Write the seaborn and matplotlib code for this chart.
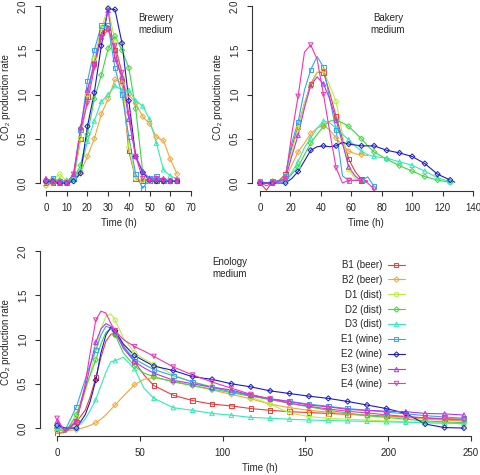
import numpy as np
import matplotlib
matplotlib.use('Agg')
import matplotlib.pyplot as plt
from matplotlib.lines import Line2D
import seaborn as sns

nan = np.nan

STRAINS = ['B1 (beer)', 'B2 (beer)', 'D1 (dist)', 'D2 (dist)', 'D3 (dist)',
           'E1 (wine)', 'E2 (wine)', 'E3 (wine)', 'E4 (wine)']

# brewery medium, one sample every ~3.3 h
T_BREW = [0, 3.3, 6.7, 10, 13.3, 16.7, 20, 23.3, 26.7, 30, 33.3, 36.7, 40, 43.3,
          46.7, 50, 53.3, 56.7, 60, 63.3]
BREW_B1 = [0.0, 0.0, 0.0, 0.02, 0.05, 0.5, 0.98, 1.35, 1.7, 1.75, 1.5, 1.15, 0.36, 0.05, 0.02, 0.03, 0.02, 0.02, 0.02, 0.02]
BREW_B2 = [-0.03, 0.0, 0.02, 0.02, 0.05, 0.12, 0.3, 0.5, 0.78, 0.95, 1.17, 1.13, 1.0, 0.9, 0.75, 0.67, 0.52, 0.48, 0.27, 0.1]
BREW_D1 = [0.02, 0.05, 0.1, 0.02, 0.05, 0.5, 1.0, 1.4, 1.75, 1.98, 1.6, 1.2, 0.4, 0.05, 0.03, 0.02, 0.03, 0.02, 0.02, 0.02]
BREW_D2 = [0.01, 0.0, 0.03, 0.02, 0.05, 0.2, 0.55, 0.95, 1.22, 1.52, 1.66, 1.5, 1.3, 0.84, 0.12, 0.05, 0.03, 0.02, 0.02, 0.02]
BREW_D3 = [0.02, 0.05, 0.0, 0.03, 0.05, 0.15, 0.47, 0.7, 0.92, 1.0, 1.1, 1.05, 1.05, 0.93, 0.87, 0.72, 0.45, 0.15, 0.08, 0.05]
BREW_E1 = [0.02, 0.05, 0.02, 0.0, 0.05, 0.6, 1.15, 1.5, 1.78, 1.78, 1.3, 1.0, 0.52, 0.1, -0.06, 0.05, 0.08, 0.02, 0.02, 0.02]
BREW_E2 = [0.02, 0.02, 0.0, 0.0, 0.02, 0.11, 0.64, 1.02, 1.55, 1.97, 1.96, 1.58, 0.93, 0.3, 0.12, 0.03, 0.02, 0.02, 0.02, 0.02]
BREW_E3 = [0.05, 0.02, 0.0, 0.0, 0.1, 0.63, 1.05, 1.35, 1.65, 1.95, 1.4, 1.2, 0.72, 0.3, 0.13, 0.05, 0.05, 0.05, 0.02, 0.02]
BREW_E4 = [0.02, 0.0, 0.0, 0.0, 0.1, 0.6, 0.9, 1.3, 1.65, 1.73, 1.55, 1.25, 0.78, 0.3, 0.05, 0.03, 0.05, 0.03, 0.02, 0.03]
BREW_MARKS = T_BREW

# bakery medium
T_BAK = [0, 4.2, 8.3, 12.5, 16.7, 20.8, 25, 29.2, 33.3, 37.5, 41.7, 45.8, 50, 54.2, 58.3,
         62.5, 66.7, 70.8, 75, 83.3, 91.7, 100, 108.3, 116.7, 125, 128]
BAK_B1 = [0.0, -0.08, 0.02, 0.03, 0.1, 0.4, 0.64, 0.9, 1.12, 1.25, 1.25, 1.02, 0.75, 0.5, 0.27, 0.13, 0.04, 0.02, nan, nan, nan, nan, nan, nan, nan, nan]
BAK_B2 = [0.0, 0.0, 0.02, 0.02, 0.05, 0.2, 0.35, 0.45, 0.56, 0.62, 0.65, 0.6, 0.51, 0.43, 0.36, 0.33, 0.32, 0.31, nan, nan, nan, nan, nan, nan, nan, nan]
BAK_D1 = [0.0, 0.0, 0.02, 0.03, 0.08, 0.35, 0.62, 0.9, 1.1, 1.25, 1.27, 1.1, 0.92, 0.55, 0.15, 0.05, 0.02, nan, nan, nan, nan, nan, nan, nan, nan, nan]
BAK_D2 = [0.0, 0.0, 0.0, 0.02, 0.02, 0.1, 0.18, 0.32, 0.45, 0.55, 0.64, 0.7, 0.71, 0.68, 0.64, 0.57, 0.5, 0.42, 0.35, 0.27, 0.195, 0.135, 0.072, 0.034, 0.008, nan]
BAK_D3 = [0.02, 0.0, 0.0, 0.02, 0.03, 0.12, 0.24, 0.4, 0.51, 0.62, 0.7, 0.68, 0.62, 0.55, 0.49, 0.42, 0.36, 0.32, 0.3, 0.28, 0.24, 0.2, 0.135, 0.06, 0.015, nan]
BAK_E1 = [0.02, 0.0, 0.02, 0.03, 0.08, 0.45, 0.69, 1.05, 1.28, 1.43, 1.31, 0.95, 0.6, 0.08, 0.03, 0.03, 0.03, 0.07, -0.04, nan, nan, nan, nan, nan, nan, nan]
BAK_E2 = [0.0, 0.0, 0.0, 0.0, 0.0, 0.05, 0.13, 0.25, 0.37, 0.41, 0.42, 0.41, 0.42, 0.46, 0.44, 0.43, 0.42, 0.42, 0.42, 0.37, 0.34, 0.3, 0.22, 0.1, 0.034, 0.01]
BAK_E3 = [0.0, 0.0, 0.0, 0.02, 0.05, 0.3, 0.54, 0.85, 1.1, 1.2, 1.12, 0.95, 0.71, 0.45, 0.18, 0.08, 0.02, 0.02, nan, nan, nan, nan, nan, nan, nan, nan]
BAK_E4 = [0.0, -0.03, 0.0, 0.02, 0.05, 0.55, 0.98, 1.48, 1.56, 1.4, 1.0, 0.58, 0.17, 0.0, 0.03, 0.03, 0.03, 0.0, -0.07, nan, nan, nan, nan, nan, nan, nan]
BAK_MARKS = [0, 8.3, 16.7, 25, 33.3, 41.7, 50, 58.3, 66.7, 75, 83.3, 91.7, 100, 108.3, 116.7, 125]

# enology medium
T_ENO = [0, 5, 11.7, 17, 20, 23.4, 26.5, 29.5, 32.5, 35.1, 40, 46.8, 52.5, 58.5, 70.2, 81.9,
         93.6, 105.3, 117, 128.7, 140.4, 152.1, 163.8, 175.5, 187.2, 198.9, 210.6, 222.3, 234, 245.7]
ENO_B1 = [-0.06, -0.05, 0.07, 0.2, 0.35, 0.57, 0.8, 0.98, 1.06, 1.07, 0.93, 0.75, 0.6, 0.48, 0.37, 0.31, 0.27, 0.25, 0.22, 0.2, 0.185, 0.175, 0.165, 0.155, 0.145, 0.135, 0.125, 0.115, 0.105, 0.1]
ENO_B2 = [-0.03, -0.03, -0.02, 0.01, 0.03, 0.06, 0.1, 0.15, 0.21, 0.26, 0.36, 0.49, 0.55, 0.57, 0.53, 0.48, 0.43, 0.38, 0.33, 0.27, 0.23, 0.2, 0.18, 0.16, 0.14, 0.13, 0.12, 0.1, 0.09, 0.08]
ENO_D1 = [0.0, -0.05, 0.12, 0.4, 0.6, 0.9, 1.12, 1.26, 1.29, 1.22, 1.02, 0.85, 0.78, 0.72, 0.6, 0.52, 0.47, 0.42, 0.35, 0.27, 0.17, 0.13, 0.11, 0.1, 0.09, 0.08, 0.07, 0.06, 0.055, 0.05]
ENO_D2 = [0.0, -0.05, 0.15, 0.45, 0.6, 0.77, 0.95, 1.08, 1.12, 1.05, 0.85, 0.7, 0.62, 0.58, 0.52, 0.48, 0.44, 0.4, 0.36, 0.32, 0.28, 0.24, 0.2, 0.17, 0.14, 0.12, 0.1, 0.08, 0.07, 0.06]
ENO_D3 = [0.0, -0.02, 0.0, 0.1, 0.2, 0.32, 0.48, 0.63, 0.75, 0.76, 0.8, 0.67, 0.45, 0.335, 0.23, 0.2, 0.165, 0.145, 0.12, 0.11, 0.1, 0.09, 0.085, 0.08, 0.075, 0.07, 0.065, 0.06, 0.055, 0.05]
ENO_E1 = [0.03, -0.02, 0.24, 0.55, 0.72, 0.88, 1.05, 1.15, 1.13, 1.08, 0.92, 0.78, 0.72, 0.66, 0.59, 0.52, 0.46, 0.41, 0.37, 0.33, 0.3, 0.27, 0.245, 0.22, 0.2, 0.18, 0.16, 0.14, 0.125, 0.11]
ENO_E2 = [0.03, 0.0, 0.0, 0.15, 0.3, 0.54, 0.85, 1.05, 1.14, 1.1, 0.95, 0.82, 0.76, 0.7, 0.65, 0.58, 0.55, 0.5, 0.465, 0.42, 0.39, 0.36, 0.335, 0.3, 0.26, 0.22, 0.165, 0.045, 0.005, 0.0]
ENO_E3 = [0.07, -0.03, 0.08, 0.45, 0.7, 0.97, 1.12, 1.18, 1.15, 1.09, 0.9, 0.75, 0.68, 0.62, 0.54, 0.5, 0.46, 0.43, 0.37, 0.33, 0.3, 0.26, 0.24, 0.21, 0.2, 0.19, 0.185, 0.165, 0.16, 0.147]
ENO_E4 = [0.11, -0.05, 0.07, 0.5, 0.85, 1.22, 1.32, 1.3, 1.18, 1.1, 1.0, 0.92, 0.87, 0.81, 0.69, 0.6, 0.52, 0.45, 0.38, 0.33, 0.28, 0.245, 0.215, 0.19, 0.17, 0.15, 0.13, 0.115, 0.1, 0.09]
ENO_MARKS = [0, 11.7, 23.4, 35.1, 46.8, 58.5, 70.2, 81.9, 93.6, 105.3, 117, 128.7, 140.4,
             152.1, 163.8, 175.5, 187.2, 198.9, 210.6, 222.3, 234, 245.7]

COLORS = ['#f03a3a', '#f5a535', '#b8f03a', '#3cd83c', '#35e8b5',
          '#35a5f0', '#1a1acc', '#b535f0', '#f035b5']
MARKERS = ['s', 'D', 'o', 'D', '^', 's', 'D', '^', 'v']

sns.set_theme(style='white')
plt.rcParams['font.family'] = ['Liberation Sans', 'DejaVu Sans']
plt.rcParams['font.size'] = 7
plt.rcParams['axes.linewidth'] = 0.8

fig = plt.figure(figsize=(4.8, 4.75), dpi=100)


def px_axes(left, right, top, bottom):
    W, H = 480.0, 475.0
    return fig.add_axes([left / W, 1 - bottom / H, (right - left) / W, (bottom - top) / H])


def draw_panel(ax, t, series, marks, xlim, xticks, title, tx, ty):
    t = np.asarray(t, dtype=float)
    is_mark = np.array([np.any(np.isclose(v, marks, atol=0.05)) for v in t])
    for vals, c, m in zip(series, COLORS, MARKERS):
        y = np.asarray(vals, dtype=float)
        ok = ~np.isnan(y)
        sns.lineplot(x=t[ok], y=y[ok], ax=ax, color=c, lw=0.8, estimator=None, sort=False)
        sel = ok & is_mark
        sns.scatterplot(x=t[sel], y=y[sel], ax=ax, marker=m, s=10 if m != 'D' else 7,
                        facecolor='none', edgecolor=c, linewidth=0.7, legend=False, zorder=3)
    ax.set_xlim(*xlim)
    ax.set_ylim(-0.09, 2.04)
    ax.set_xticks(xticks)
    ax.set_yticks([0, 0.5, 1.0, 1.5, 2.0])
    ax.set_yticklabels(['0.0', '0.5', '1.0', '1.5', '2.0'])
    for lab in ax.get_yticklabels():
        lab.set_rotation(90)
        lab.set_va('center')
    ax.tick_params(direction='out', length=3.6, width=0.8, color='#333333', pad=5,
                   labelsize=7, left=True, bottom=True)
    sns.despine(ax=ax, trim=True)
    for s in ['left', 'bottom']:
        ax.spines[s].set_color('#333333')
    ax.set_xlabel('Time (h)', fontsize=7, labelpad=4)
    ax.set_ylabel('CO₂ production rate', fontsize=7, labelpad=5)
    ax.text(tx, ty, title, transform=ax.transAxes, ha='center', va='center',
            fontsize=7, linespacing=1.25)


ax1 = px_axes(40, 197, 2.5, 191)
draw_panel(ax1, T_BREW, [BREW_B1, BREW_B2, BREW_D1, BREW_D2, BREW_D3, BREW_E1, BREW_E2, BREW_E3, BREW_E4],
           BREW_MARKS, (-2.9, 72.9), range(0, 71, 10), 'Brewery\nmedium', 0.739, 0.886)

ax2 = px_axes(252, 480, 2.5, 191)
draw_panel(ax2, T_BAK, [BAK_B1, BAK_B2, BAK_D1, BAK_D2, BAK_D3, BAK_E1, BAK_E2, BAK_E3, BAK_E4],
           BAK_MARKS, (-5.3, 144.6), range(0, 141, 20), 'Bakery\nmedium', 0.596, 0.886)

ax3 = px_axes(40, 480, 247.5, 436)
draw_panel(ax3, T_ENO, [ENO_B1, ENO_B2, ENO_D1, ENO_D2, ENO_D3, ENO_E1, ENO_E2, ENO_E3, ENO_E4],
           ENO_MARKS, (-10.3, 255.4), range(0, 251, 50), 'Enology\nmedium', 0.432, 0.889)

handles = [Line2D([], [], color=c, lw=0.8, marker=m, markersize=3.2 if m != 'D' else 2.7,
                  markerfacecolor='none', markeredgecolor=c, markeredgewidth=0.7)
           for c, m in zip(COLORS, MARKERS)]
ax3.legend(handles, STRAINS, loc='upper right', bbox_to_anchor=(405 / 480, 1 - 260 / 475),
           bbox_transform=fig.transFigure, frameon=False, markerfirst=False,
           fontsize=7, handlelength=1.75, handletextpad=0.6, labelspacing=0.5,
           borderpad=0, borderaxespad=0)

fig.savefig('out.png', dpi=100)
